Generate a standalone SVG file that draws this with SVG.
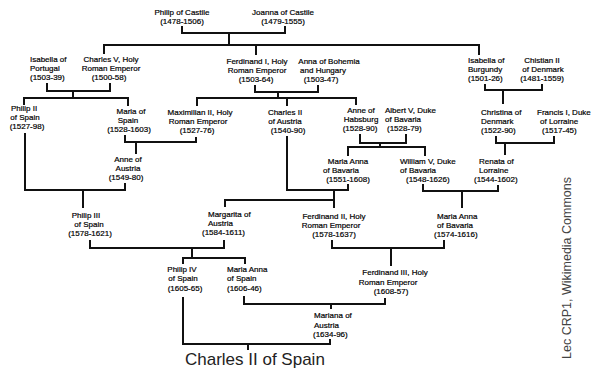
<svg xmlns="http://www.w3.org/2000/svg" width="603" height="373" viewBox="0 0 603 373">
<style>
.n{font-family:"Liberation Sans",Arial,sans-serif;font-size:8px;fill:#000;stroke:#000;stroke-width:0.2;text-anchor:middle}
.l{text-anchor:start}
.c{fill:none;stroke:#111;stroke-width:2}
.title{font-family:"Liberation Sans",Arial,sans-serif;font-size:17px;fill:#222}
.credit{font-family:"Liberation Sans",Arial,sans-serif;font-size:12.5px;fill:#444}
</style>
<rect width="603" height="373" fill="#fff"/>
<g id="connectors" class="c">
<path d="M182,26V33H285V26M229,33V45"/>
<path d="M104,54V45H479V55M256,45V55"/>
<path d="M47,83V91H110V83M73,91V98M24,105V98H128V106"/>
<path d="M255,85V92H318V85M278,92V98M197,106V98H356V105M287,98V106"/>
<path d="M485,84V90H542V84M503,90V104"/>
<path d="M125,135V142H196V137M136,142V154"/>
<path d="M25,133V190H125V183M83,190V208"/>
<path d="M360,134V143H406V134M380,143V147M348,156V147H425V156"/>
<path d="M496,136V143H554V136M505,143V155"/>
<path d="M287,136V190H348V184M334,190V208M225,207V200H334"/>
<path d="M423,184V191H498V185M462,191V208"/>
<path d="M90,240V248H224V240M192,248V258M183,264V258H245V264"/>
<path d="M332,240V248H444V240M391,248V266"/>
<path d="M244,296V304H385V298M331,304V309"/>
<path d="M183,297V344H330V339M248,344V350"/>
</g>
<g id="philip-castile"><text class="n"><tspan x="182" y="15">Philip of Castile</tspan><tspan x="182" y="24">(1478-1506)</tspan></text></g>
<g id="joanna-castile"><text class="n"><tspan x="283" y="15">Joanna of Castile</tspan><tspan x="283" y="24">(1479-1555)</tspan></text></g>
<g id="isabella-portugal"><text class="n l"><tspan x="30" y="62">Isabella of</tspan><tspan x="30" y="71">Portugal</tspan><tspan x="30" y="80">(1503-39)</tspan></text></g>
<g id="charles-v"><text class="n"><tspan x="111" y="62">Charles V, Holy</tspan><tspan x="111" y="71">Roman Emperor</tspan><tspan x="109" y="80">(1500-58)</tspan></text></g>
<g id="ferdinand-i"><text class="n"><tspan x="257" y="64">Ferdinand I, Holy</tspan><tspan x="257" y="73">Roman Emperor</tspan><tspan x="256" y="82">(1503-64)</tspan></text></g>
<g id="anna-bohemia"><text class="n"><tspan x="329" y="64">Anna of Bohemia</tspan><tspan x="323" y="73">and Hungary</tspan><tspan x="321" y="82">(1503-47)</tspan></text></g>
<g id="isabella-burgundy"><text class="n l"><tspan x="468" y="63">Isabella of</tspan><tspan x="468" y="72">Burgundy</tspan><tspan x="468" y="81">(1501-26)</tspan></text></g>
<g id="christian-ii"><text class="n"><tspan x="542" y="63">Chistian II</tspan><tspan x="543" y="72">of Denmark</tspan><tspan x="542" y="81">(1481-1559)</tspan></text></g>
<g id="philip-ii"><text class="n"><tspan x="24" y="111">Philip II</tspan><tspan x="25" y="120">of Spain</tspan><tspan x="27" y="129">(1527-98)</tspan></text></g>
<g id="maria-spain"><text class="n"><tspan x="131" y="114">Maria of</tspan><tspan x="128" y="123">Spain</tspan><tspan x="129" y="132">(1528-1603)</tspan></text></g>
<g id="maximilian-ii"><text class="n"><tspan x="200" y="115">Maximilian II, Holy</tspan><tspan x="198" y="124">Roman Emperor</tspan><tspan x="197" y="133">(1527-76)</tspan></text></g>
<g id="charles-ii-austria"><text class="n"><tspan x="285" y="115">Charles II</tspan><tspan x="285" y="124">of Austria</tspan><tspan x="288" y="133">(1540-90)</tspan></text></g>
<g id="anne-habsburg"><text class="n"><tspan x="361" y="113">Anne of</tspan><tspan x="361" y="122">Habsburg</tspan><tspan x="360" y="131">(1528-90)</tspan></text></g>
<g id="albert-v"><text class="n l"><tspan x="385" y="113">Albert V, Duke</tspan><tspan x="385" y="122">of Bavaria</tspan><tspan x="387" y="131">(1528-79)</tspan></text></g>
<g id="christina-denmark"><text class="n l"><tspan x="481" y="115">Christina of</tspan><tspan x="481" y="124">Denmark</tspan><tspan x="481" y="133">(1522-90)</tspan></text></g>
<g id="francis-i"><text class="n l"><tspan x="537" y="115">Francis I, Duke</tspan><tspan x="540" y="124">of Lorraine</tspan><tspan x="542" y="133">(1517-45)</tspan></text></g>
<g id="anne-austria"><text class="n"><tspan x="128" y="162">Anne of</tspan><tspan x="128" y="171">Austria</tspan><tspan x="126" y="180">(1549-80)</tspan></text></g>
<g id="maria-anna-bavaria-1551"><text class="n"><tspan x="348" y="164">Maria Anna</tspan><tspan x="341" y="173">of Bavaria</tspan><tspan x="348" y="182">(1551-1608)</tspan></text></g>
<g id="william-v"><text class="n l"><tspan x="400" y="164">William V, Duke</tspan><tspan x="400" y="173">of Bavaria</tspan><tspan x="406" y="182">(1548-1626)</tspan></text></g>
<g id="renata-lorraine"><text class="n l"><tspan x="479" y="164">Renata of</tspan><tspan x="479" y="173">Lorraine</tspan><tspan x="474" y="182">(1544-1602)</tspan></text></g>
<g id="philip-iii"><text class="n"><tspan x="86" y="218">Philip III</tspan><tspan x="89" y="227">of Spain</tspan><tspan x="90" y="236">(1578-1621)</tspan></text></g>
<g id="margarita-austria"><text class="n l"><tspan x="208" y="217">Margarita of</tspan><tspan x="208" y="226">Austria</tspan><tspan x="202" y="235">(1584-1611)</tspan></text></g>
<g id="ferdinand-ii"><text class="n"><tspan x="334" y="219">Ferdinand II, Holy</tspan><tspan x="331" y="228">Roman Emperor</tspan><tspan x="334" y="237">(1578-1637)</tspan></text></g>
<g id="maria-anna-bavaria-1574"><text class="n l"><tspan x="437" y="219">Maria Anna</tspan><tspan x="437" y="228">of Bavaria</tspan><tspan x="434" y="237">(1574-1616)</tspan></text></g>
<g id="philip-iv"><text class="n"><tspan x="182" y="272">Philip IV</tspan><tspan x="183" y="281">of Spain</tspan><tspan x="185" y="291">(1605-65)</tspan></text></g>
<g id="maria-anna-spain"><text class="n l"><tspan x="227" y="272">Maria Anna</tspan><tspan x="227" y="281">of Spain</tspan><tspan x="227" y="291">(1606-46)</tspan></text></g>
<g id="ferdinand-iii"><text class="n"><tspan x="395" y="275">Ferdinand III, Holy</tspan><tspan x="388" y="284.5">Roman Emperor</tspan><tspan x="391" y="294">(1608-57)</tspan></text></g>
<g id="mariana-austria"><text class="n l"><tspan x="314" y="318">Mariana of</tspan><tspan x="314" y="327.5">Austria</tspan><tspan x="313" y="337">(1634-96)</tspan></text></g>
<g id="charles-ii-spain"><text class="title" x="185" y="365">Charles II of Spain</text></g>
<g id="credit"><text class="credit" x="571" y="359" transform="rotate(-90 571 359)">Lec CRP1, Wikimedia Commons</text></g>
</svg>
